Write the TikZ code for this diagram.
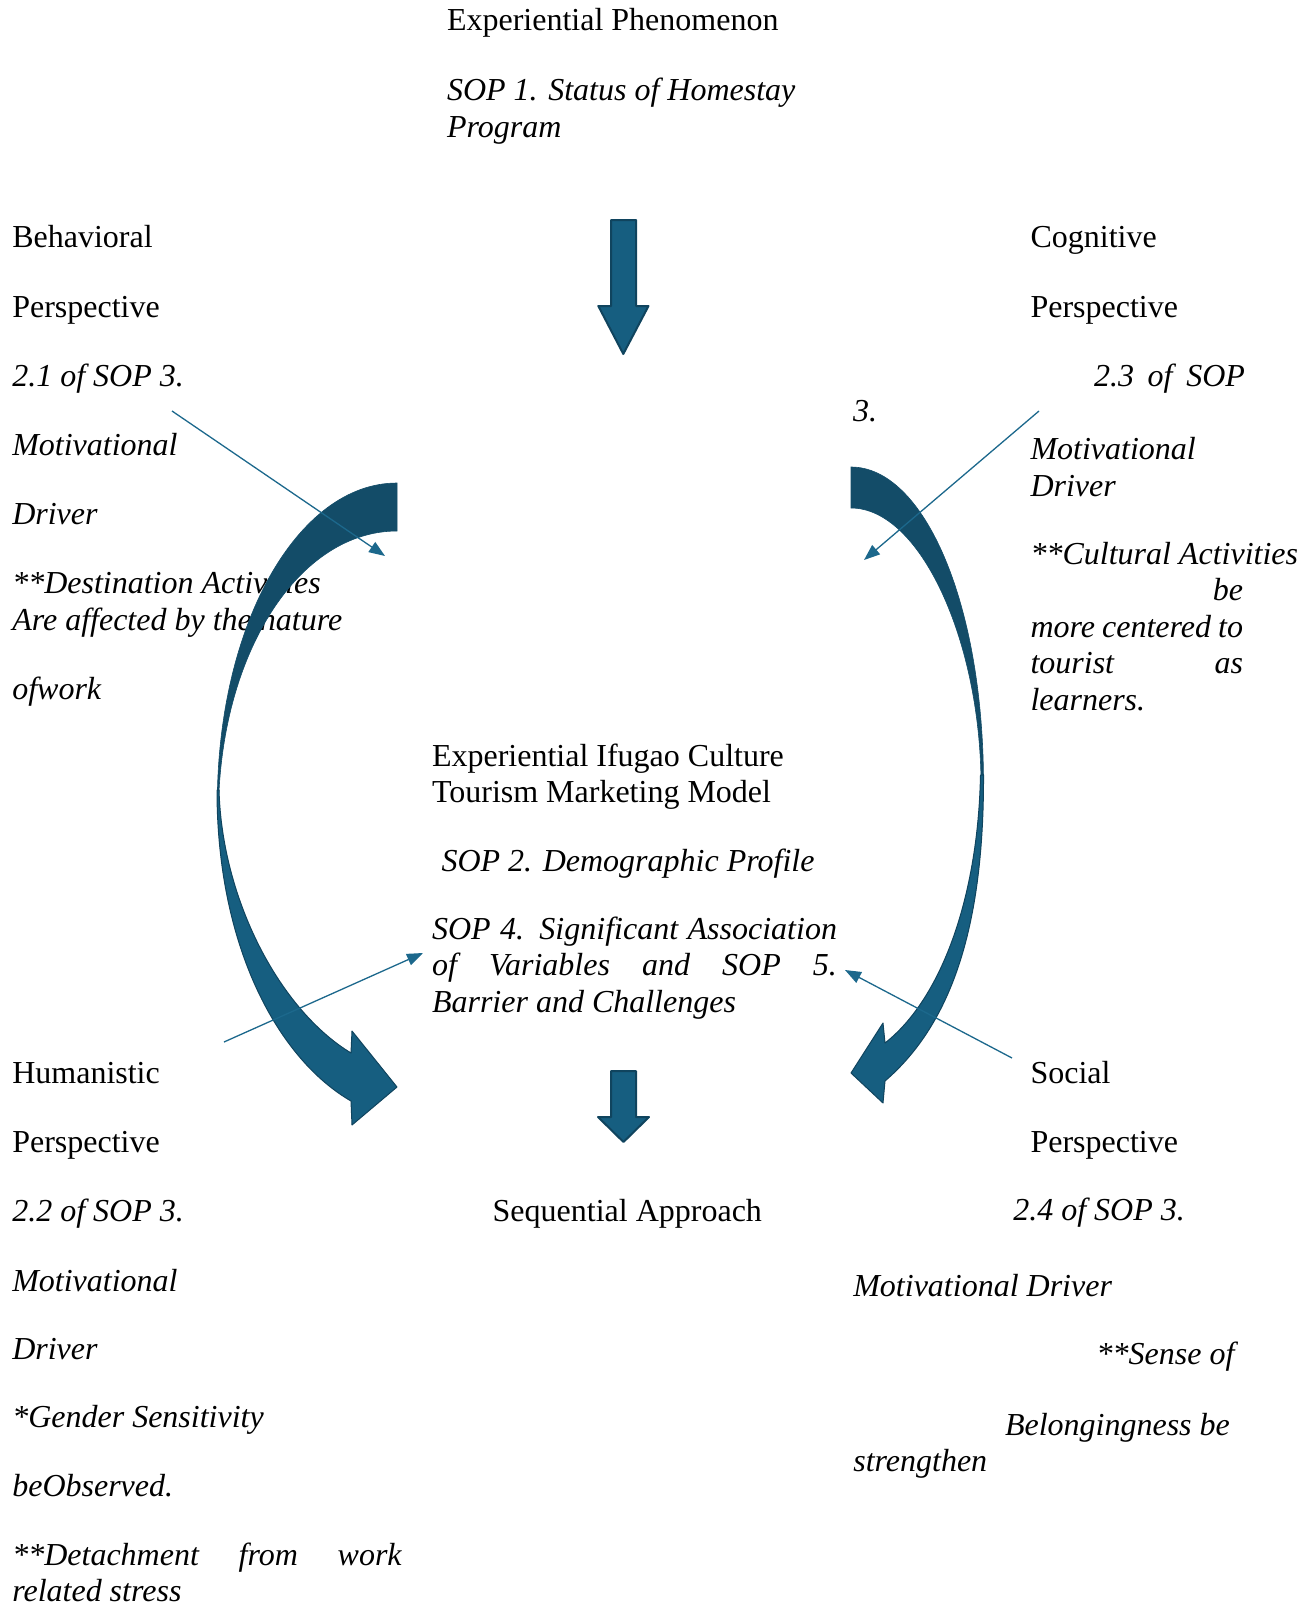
\documentclass[tikz,border=0pt]{standalone}
\usepackage{fontspec}
\setmainfont{Liberation Serif}
\usetikzlibrary{arrows.meta}
\definecolor{frontblue}{RGB}{22,94,128}
\definecolor{backblue}{RGB}{19,76,104}
\definecolor{edgeblue}{RGB}{16,68,94}
\definecolor{linkblue}{RGB}{28,104,140}
\begin{document}
\begin{tikzpicture}[x=0.5pt,y=-0.5pt,
  txt/.style={anchor=base west,inner sep=0pt,outer sep=0pt,font=\fontsize{16pt}{18.4pt}\selectfont},
  itx/.style={txt,font=\fontsize{16pt}{18.4pt}\selectfont\itshape},
  link/.style={draw=linkblue,line width=0.65pt,-{Triangle[length=8pt,width=6pt]}},
  frontpart/.style={fill=frontblue,draw=edgeblue,line width=0.5pt,line join=round},
  backpart/.style={fill=backblue,draw=backblue,line width=0.3pt},
  blockarrow/.style={fill=frontblue,draw=edgeblue,line width=1pt,line join=round}]
\useasboundingbox (0,0) rectangle (1307,1606);

% ---------- top ----------
\node[txt] (ep) at (447,31) {Experiential Phenomenon};
\node[itx] (sop1a) at (447,100.6) {SOP 1. Status of Homestay};
\node[itx] (sop1b) at (447,137.5) {Program};

% ---------- left (behavioral) ----------
\node[txt] (bh1) at (12.3,247) {Behavioral};
\node[txt] (bh2) at (12.3,317) {Perspective};
\node[itx] (bh3) at (12.3,386.4) {2.1 of SOP 3.};
\node[itx] (bh4) at (12.3,455) {Motivational};
\node[itx] (bh5) at (12.3,524.7) {Driver};
\node[itx] (bh6) at (12.3,593.3) {**Destination Activities};
\node[itx] (bh7) at (12.3,630.2) {Are affected by the nature};
\node[itx] (bh8) at (12.3,699.8) {ofwork};

% ---------- right (cognitive) ----------
\node[txt] (cg1) at (1030.5,247) {Cognitive};
\node[txt] (cg2) at (1030.5,317) {Perspective};
\node[itx] (cg3) at (1094,386.4) {\makebox[75.5pt][s]{2.3 of SOP}};
\node[itx] (cg4) at (853,421) {3.};
\node[itx] (cg5) at (1030.5,459) {Motivational};
\node[itx] (cg6) at (1030.5,496) {Driver};
\node[itx] (cg7) at (1030.5,564) {**Cultural Activities};
\node[itx,anchor=base east] (cg8) at (1243,600) {be};
\node[itx] (cg9) at (1030.5,637) {\makebox[106.25pt][s]{more centered to}};
\node[itx] (cg10) at (1030.5,673.5) {\makebox[106.25pt][s]{tourist as}};
\node[itx] (cg11) at (1030.5,710) {learners.};

% ---------- middle ----------
\node[txt] (m1) at (432,766.4) {Experiential Ifugao Culture};
\node[txt] (m2) at (432,802.3) {Tourism Marketing Model};
\node[itx] (m3) at (441.5,871) {SOP 2. Demographic Profile};
\node[itx] (m4) at (432,939.5) {\makebox[202.5pt][s]{SOP 4. Significant Association}};
\node[itx] (m5) at (432,975.4) {\makebox[202.5pt][s]{of Variables and SOP 5.}};
\node[itx] (m6) at (432,1012.3) {Barrier and Challenges};

% ---------- bottom left (humanistic) ----------
\node[txt] (hu1) at (12.3,1083) {Humanistic};
\node[txt] (hu2) at (12.3,1152.6) {Perspective};
\node[itx] (hu3) at (12.3,1221.2) {2.2 of SOP 3.};
\node[itx] (hu4) at (12.3,1291) {Motivational};
\node[itx] (hu5) at (12.3,1359.5) {Driver};
\node[itx] (hu6) at (12.3,1427.5) {*Gender Sensitivity};
\node[itx] (hu7) at (12.3,1496.7) {beObserved.};
\node[itx] (hu8) at (12.3,1565) {\makebox[194.7pt][s]{**Detachment from work}};
\node[itx] (hu9) at (12.3,1601.7) {related stress};

% ---------- bottom middle ----------
\node[txt] (sq) at (492.7,1221) {Sequential Approach};

% ---------- bottom right (social) ----------
\node[txt] (so1) at (1030.5,1083) {Social};
\node[txt] (so2) at (1030.5,1152.6) {Perspective};
\node[itx] (so3) at (1013.3,1220.7) {2.4 of SOP 3.};
\node[itx] (so4) at (853.3,1296.7) {Motivational Driver};
\node[itx] (so5) at (1096.7,1364) {**Sense of};
\node[itx] (so6) at (1005,1435) {Belongingness be};
\node[itx] (so7) at (853.3,1471) {strengthen};

% ---------- straight block arrows ----------
\draw[blockarrow] (611,220) -- (636,220) -- (636,306) -- (648.5,306) -- (623.3,354)
  -- (598.3,306) -- (611,306) -- cycle;
\draw[blockarrow] (611,1071) -- (636,1071) -- (636,1117) -- (649,1117) -- (623.5,1142)
  -- (598,1117) -- (611,1117) -- cycle;

% ---------- left curved arrow ----------
\path[backpart] (397,483) .. controls (297.6,483) and (217,625) .. (217.3,805)
  -- (218.5,805) .. controls (222,650) and (300,531) .. (397,531) -- cycle;
\path[frontpart] (219,790) .. controls (222,900) and (280,1010) .. (351,1053)
  -- (352,1031) -- (397,1087) -- (352,1125) -- (351,1101)
  .. controls (280,1060) and (217,950) .. (217,790) -- cycle;

% ---------- right curved arrow ----------
\path[backpart] (851,467) .. controls (923.9,467) and (983,602.7) .. (983.5,782)
  -- (981,782) .. controls (980,640) and (920,508) .. (851,508) -- cycle;
\path[frontpart] (983.5,775) .. controls (984,930) and (950,1025) .. (885,1081)
  -- (883,1103) -- (851,1073) -- (883,1023) -- (885,1043)
  .. controls (940,1000) and (978,900) .. (980.5,775) -- cycle;

% ---------- thin connectors ----------
\coordinate (c1s) at (172,411);  \coordinate (c1e) at (385,556);
\coordinate (c2s) at (1039,411); \coordinate (c2e) at (864,560);
\coordinate (c3s) at (224,1042); \coordinate (c3e) at (423,953);
\coordinate (c4s) at (1012,1058);\coordinate (c4e) at (845,970);
\draw[link] (c1s) -- (c1e);
\draw[link] (c2s) -- (c2e);
\draw[link] (c3s) -- (c3e);
\draw[link] (c4s) -- (c4e);
\end{tikzpicture}
\end{document}
